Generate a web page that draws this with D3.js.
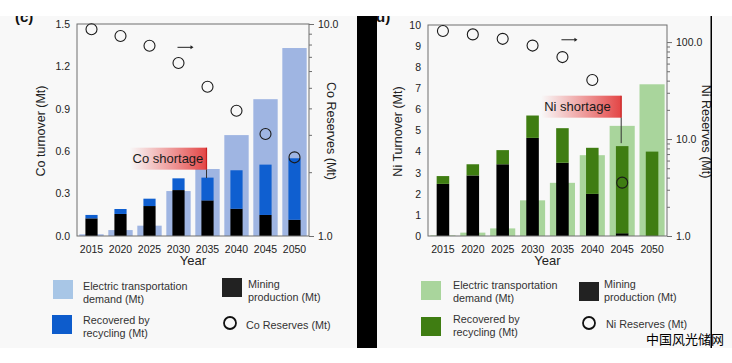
<!DOCTYPE html>
<html lang="en">
<head>
<meta charset="UTF-8">
<title>Co / Ni turnover</title>
<script src="https://cdn.jsdelivr.net/npm/d3@7/dist/d3.min.js"></script>
<style>
    body{margin:0;background:#fff;}
    svg{display:block;font-family:"Liberation Sans",Arial,sans-serif;}
</style>
</head>
<body>
<svg width="732" height="363"></svg>

<script>
    // categories
    var years = ["2015","2020","2025","2030","2035","2040","2045","2050"];

    // Co (Mt)
    var coDemand   = [0.012, 0.042, 0.073, 0.318, 0.474, 0.714, 0.968, 1.33];
    var coMining   = [0.125, 0.156, 0.212, 0.325, 0.252, 0.193, 0.149, 0.115];
    var coRecycled = [0.024, 0.035, 0.052, 0.083, 0.161, 0.272, 0.356, 0.435];
    var coReserves = [9.44, 8.78, 7.9, 6.55, 5.06, 3.9, 3.03, 2.35];

    // Ni (Mt)
    var niDemand   = [0.03, 0.16, 0.36, 1.69, 2.52, 3.83, 5.22, 7.19];
    var niMining   = [2.47, 2.87, 3.40, 4.65, 3.47, 2.0, 0.13, 0];
    var niRecycled = [0.37, 0.53, 0.67, 1.06, 1.64, 2.18, 4.13, 4.0];
    var niReserves = [130, 120, 108, 92, 70, 40.6, 3.55, null];

    // tick labels
    var coLeftTicks  = [0, 0.3, 0.6, 0.9, 1.2, 1.5];
    var coRightTicks = [1, 10];
    var niLeftTicks  = [0, 1, 2, 3, 4, 5, 6, 7, 8, 9, 10];
    var niRightTicks = [1, 10, 100];
    var minorSteps   = [2, 3, 4, 5, 6, 7, 8, 9];

    var svg = d3.select('svg');

    //背景
    svg.append('rect').attr('x',0).attr('y',0).attr('width',732).attr('height',363).attr('fill','#fff');
    svg.append('rect').attr('x',0).attr('y',16).attr('width',732).attr('height',332).attr('fill','#f8f8f8');

    var defs = svg.append('defs');
    var grad = defs.append('linearGradient').attr('id','shortGrad').attr('x1','0%').attr('x2','100%');
    grad.append('stop').attr('offset','0%').attr('stop-color','#e84848').attr('stop-opacity',0);
    grad.append('stop').attr('offset','100%').attr('stop-color','#e23c3c').attr('stop-opacity',0.95);

    function drawPanel(cfg) {
        var g = svg.append('g');
        var x = d3.scaleBand().domain(years).range([cfg.left, cfg.right]).padding(0);
        var yL = d3.scaleLinear().domain(cfg.leftDomain).range([cfg.bottom, cfg.top]);
        var yR = d3.scaleLog().domain(cfg.rightDomain).range([cfg.bottom, cfg.top]);
        var bw = x.bandwidth();
        var wide = bw * 0.84, narrow = bw * 0.42;

        // demand bars (behind)
        g.append('g').selectAll('rect').data(cfg.demand).enter().append('rect')
            .attr('x', function (d, i) { return x(years[i]) + (bw - wide) / 2; })
            .attr('width', wide)
            .attr('y', function (d) { return yL(d); })
            .attr('height', function (d) { return yL(0) - yL(d); })
            .attr('fill', cfg.demandColor);

        // mining + recycling stack
        var stackRows = years.map(function (yr, i) { return {year: yr, mining: cfg.mining[i], recycled: cfg.recycled[i]}; });
        var stacked = d3.stack().keys(['mining','recycled'])(stackRows);
        var colors = {mining: '#000', recycled: cfg.recycleColor};
        g.append('g').selectAll('g').data(stacked).enter().append('g')
            .attr('fill', function (s) { return colors[s.key]; })
            .selectAll('rect').data(function (s) { return s; }).enter().append('rect')
            .attr('x', function (d) { return x(d.data.year) + (bw - narrow) / 2; })
            .attr('width', narrow)
            .attr('y', function (d) { return yL(d[1]); })
            .attr('height', function (d) { return yL(d[0]) - yL(d[1]); });

        // frame
        g.append('rect').attr('x', cfg.left).attr('y', cfg.top)
            .attr('width', cfg.right - cfg.left).attr('height', cfg.bottom - cfg.top)
            .attr('fill','none').attr('stroke','#6f6f6f').attr('stroke-width',1);

        // axes
        var ax = g.append('g').attr('transform','translate(0,' + cfg.bottom + ')')
            .call(d3.axisBottom(x).tickSize(0).tickPadding(9.5));
        var al = g.append('g').attr('transform','translate(' + cfg.left + ',0)')
            .call(d3.axisLeft(yL).tickValues(cfg.leftTicks).tickSize(0).tickPadding(7).tickFormat(cfg.leftFormat));
        var ar = g.append('g').attr('transform','translate(' + cfg.right + ',0)')
            .call(d3.axisRight(yR).tickValues(cfg.rightTicks).tickSize(5).tickPadding(4).tickFormat(d3.format('.1f')));
        var minors = [];
        cfg.rightTicks.forEach(function (t) {
            minorSteps.forEach(function (m) {
                var v = t * m;
                if (v < cfg.rightDomain[1]) minors.push(v);
            });
        });
        var am = g.append('g').attr('transform','translate(' + cfg.right + ',0)')
            .call(d3.axisRight(yR).tickValues(minors).tickSize(3).tickFormat(''));
        [ax, al, ar, am].forEach(function (a) {
            a.select('.domain').remove();
            a.selectAll('text').attr('font-size','10.5px').attr('fill','#222').attr('font-family','"Liberation Sans",Arial,sans-serif');
            a.selectAll('line').attr('stroke','#6f6f6f');
        });

        // reserves circles
        var pts = cfg.reserves.map(function (v, i) { return {year: years[i], v: v}; })
            .filter(function (d) { return d.v != null; });
        g.append('g').selectAll('circle').data(pts).enter().append('circle')
            .attr('cx', function (d) { return x(d.year) + bw / 2; })
            .attr('cy', function (d) { return yR(d.v); })
            .attr('r', 5.5)
            .attr('fill','none').attr('stroke','#1a1a1a').attr('stroke-width',1.1);

        // little arrow pointing to the right axis
        var ax0 = x(cfg.arrowYear) + bw / 2 - 1, ay = yL(cfg.arrowAt);
        g.append('line').attr('x1', ax0).attr('x2', ax0 + 14).attr('y1', ay).attr('y2', ay)
            .attr('stroke','#222').attr('stroke-width',1);
        g.append('path').attr('d', d3.line()([[ax0 + 13, ay - 2], [ax0 + 16, ay], [ax0 + 13, ay + 2]]))
            .attr('fill','#222');

        // shortage tag
        var bx1 = x(cfg.tagYear) + bw / 2 - 1;
        var bx0 = bx1 - cfg.tagWidth;
        var by0 = yL(cfg.tagTop), by1 = by0 + 22;
        g.append('rect').attr('x', bx0).attr('y', by0).attr('width', bx1 - bx0).attr('height', by1 - by0)
            .attr('fill','url(#shortGrad)');
        g.append('line').attr('x1', bx1).attr('x2', bx1).attr('y1', by0).attr('y2', by1)
            .attr('stroke','#c82020').attr('stroke-width',1.2);
        g.append('line').attr('x1', bx1).attr('x2', bx1).attr('y1', by1).attr('y2', yL(cfg.tagDown))
            .attr('stroke','#333').attr('stroke-width',1);
        g.append('text').attr('x', bx0 + 3).attr('y', by0 + 15).attr('font-size','13px').attr('fill','#1a1a1a')
            .text(cfg.tagText);

        // axis titles
        var midY = (cfg.top + cfg.bottom) / 2 + 1;
        g.append('text').attr('transform','translate(' + cfg.leftTitleX + ',' + midY + ') rotate(-90)')
            .attr('text-anchor','middle').attr('font-size','12.5px').attr('fill','#222').text(cfg.leftTitle);
        g.append('text').attr('transform','translate(' + cfg.rightTitleX + ',' + midY + ') rotate(90)')
            .attr('text-anchor','middle').attr('font-size','12.5px').attr('fill','#222').text(cfg.rightTitle);
        g.append('text').attr('x', (cfg.left + cfg.right) / 2).attr('y', 265)
            .attr('text-anchor','middle').attr('font-size','13px').attr('fill','#222').text('Year');

        // panel letter
        g.append('text').attr('x', cfg.letterX).attr('y', 21.5).attr('font-size','15px').attr('font-weight','bold')
            .attr('fill','#111').text(cfg.letter);

        // legend
        var lg = g.append('g').attr('font-size','10.8px').attr('fill','#333');
        cfg.legend.forEach(function (item) {
            if (item.kind === 'circle') {
                lg.append('circle').attr('cx', item.x + 10).attr('cy', item.y + 8).attr('r', 6)
                    .attr('fill','none').attr('stroke','#111').attr('stroke-width',1.8);
            } else {
                lg.append('rect').attr('x', item.x).attr('y', item.y).attr('width', 20).attr('height', 19)
                    .attr('fill', item.color);
            }
            item.lines.forEach(function (t, k) {
                lg.append('text').attr('x', item.tx).attr('y', item.ty + k * 13).text(t);
            });
        });
    }

    drawPanel({
        left: 77, right: 309, top: 24, bottom: 236,
        leftDomain: [0, 1.5], rightDomain: [1, 10],
        leftTicks: coLeftTicks, rightTicks: coRightTicks, leftFormat: d3.format('.1f'),
        demand: coDemand, mining: coMining, recycled: coRecycled, reserves: coReserves,
        demandColor: '#9fb5e2', recycleColor: '#0f5fd0',
        arrowYear: '2030', arrowAt: 1.335,
        tagYear: '2035', tagWidth: 77, tagTop: 0.625, tagDown: 0.41, tagText: 'Co shortage',
        leftTitle: 'Co turnover (Mt)', leftTitleX: 45,
        rightTitle: 'Co Reserves (Mt)', rightTitleX: 327,
        letter: '(c)', letterX: 15,
        legend: [
            {color: '#a8c6e6', x: 53, y: 280, tx: 83, ty: 290, lines: ['Electric transportation', 'demand (Mt)']},
            {color: '#222', x: 222, y: 278, tx: 248, ty: 288, lines: ['Mining', 'production (Mt)']},
            {color: '#0d5ccc', x: 52, y: 315, tx: 83, ty: 324, lines: ['Recovered by', 'recycling (Mt)']},
            {kind: 'circle', x: 220, y: 315, tx: 246, ty: 329, lines: ['Co Reserves (Mt)']}
        ]
    });

    drawPanel({
        left: 428, right: 667, top: 25, bottom: 236,
        leftDomain: [0, 10], rightDomain: [1, 150],
        leftTicks: niLeftTicks, rightTicks: niRightTicks, leftFormat: d3.format('d'),
        demand: niDemand, mining: niMining, recycled: niRecycled, reserves: niReserves,
        demandColor: '#a9d59c', recycleColor: '#3f7d12',
        arrowYear: '2035', arrowAt: 9.3,
        tagYear: '2045', tagWidth: 80, tagTop: 6.65, tagDown: 4.4, tagText: 'Ni shortage',
        leftTitle: 'Ni Turnover (Mt)', leftTitleX: 402,
        rightTitle: 'Ni Reserves (Mt)', rightTitleX: 702,
        letter: '(d)', letterX: 371,
        legend: [
            {color: '#a9d59c', x: 421, y: 281, tx: 453, ty: 289, lines: ['Electric transportation', 'demand (Mt)']},
            {color: '#222', x: 579, y: 282, tx: 604, ty: 288, lines: ['Mining', 'production (Mt)']},
            {color: '#3f7d12', x: 421, y: 317, tx: 453, ty: 323, lines: ['Recovered by', 'recycling (Mt)']},
            {kind: 'circle', x: 579, y: 315, tx: 606, ty: 328, lines: ['Ni Reserves (Mt)']}
        ]
    });

    // page furniture: dark strip, divider line, white top band
    svg.append('rect').attr('x',357).attr('y',16).attr('width',20).attr('height',332).attr('fill','#000');
    svg.append('rect').attr('x',710.5).attr('y',16).attr('width',1.5).attr('height',332).attr('fill','#000');
    svg.append('rect').attr('x',0).attr('y',0).attr('width',732).attr('height',16).attr('fill','#fff');

    svg.append('text').attr('x',646).attr('y',344).attr('font-size','13px').attr('fill','#000')
        .attr('font-family','"Noto Sans CJK SC",sans-serif').text('中国风光储网');
</script>
</body>
</html>
